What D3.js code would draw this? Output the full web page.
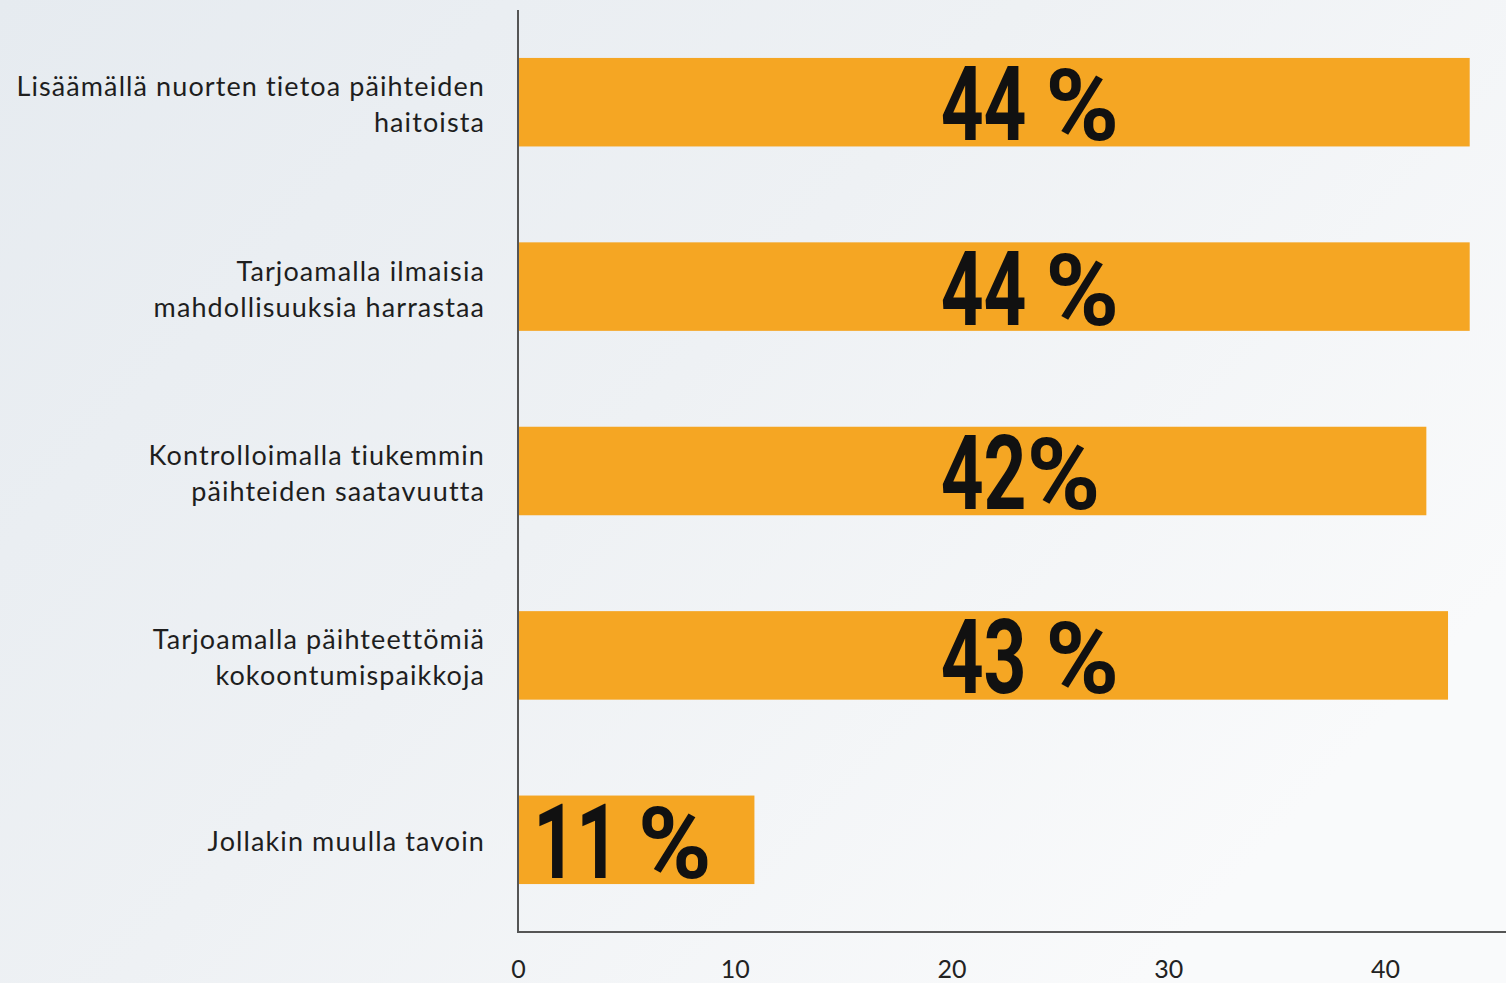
<!DOCTYPE html>
<html><head><meta charset="utf-8">
<script src="https://cdn.jsdelivr.net/npm/d3@7"></script>
<style>
html,body{margin:0;padding:0;overflow:hidden;}
svg{display:block;}
</style></head>
<body>
<script>
const categories = [
  ["Lisäämällä nuorten tietoa päihteiden", "haitoista"],
  ["Tarjoamalla ilmaisia", "mahdollisuuksia harrastaa"],
  ["Kontrolloimalla tiukemmin", "päihteiden saatavuutta"],
  ["Tarjoamalla päihteettömiä", "kokoontumispaikkoja"],
  ["Jollakin muulla tavoin"]
];
const values = [44, 44, 42, 43, 11];
const valueNumbers = ["44", "44", "42", "43", "11"];
const valueSuffixes = [" %", " %", "%", " %", " %"];
const tickValues = [0, 10, 20, 30, 40];

const W = 1506, H = 983;
const svg = d3.select("body").append("svg").attr("width", W).attr("height", H);

const defs = svg.append("defs");
const g1 = defs.append("linearGradient").attr("id","bg").attr("x1","0").attr("y1","0").attr("x2","1").attr("y2","0.6");
g1.append("stop").attr("offset","0").attr("stop-color","#e6ebf0");
g1.append("stop").attr("offset","0.5").attr("stop-color","#eef1f4");
g1.append("stop").attr("offset","1").attr("stop-color","#f9fafb");
svg.append("rect").attr("width", W).attr("height", H).attr("fill","url(#bg)");

const x = d3.scaleLinear().domain([0, 40]).range([518, 1385]);
const y = d3.scaleBand().domain(d3.range(categories.length)).range([10, 932]).paddingInner(0.52).paddingOuter(0.26);

// bars
svg.selectAll("rect.bar").data(values).join("rect")
  .attr("class","bar")
  .attr("x", x(0))
  .attr("y", (d,i) => y(i))
  .attr("width", d => x(d) - x(0) - 2)
  .attr("height", y.bandwidth())
  .attr("fill", "#f5a623");

// value labels (condensed bold): number + percent sign
const numScale = 0.72, pctScale = 1.0;
values.forEach((d, i) => {
  const tx = d > 20 ? x(19.5) : x(0.7);
  const ty = y(i) + y.bandwidth()/2 + 38;
  const num = svg.append("text")
    .attr("transform", `translate(${tx},${ty}) scale(${numScale},1)`)
    .attr("font-family", "Roboto, 'DejaVu Sans', sans-serif")
    .attr("font-weight", 700)
    .attr("font-size", 104)
    .attr("fill", "#111")
    .attr("xml:space", "preserve")
    .text(valueNumbers[i] + (valueSuffixes[i].startsWith(" ") ? " " : ""));
  const w = num.node().getComputedTextLength() * numScale;
  svg.append("text")
    .attr("transform", `translate(${tx + w},${ty}) scale(${pctScale},1)`)
    .attr("font-family", "Roboto, 'DejaVu Sans', sans-serif")
    .attr("font-weight", 700)
    .attr("font-size", 100)
    .attr("fill", "#111")
    .text("%");
});

// category labels
const cat = svg.selectAll("text.cat").data(categories).join("text")
  .attr("class","cat")
  .attr("text-anchor","end")
  .attr("font-family","Lato, 'Open Sans', sans-serif")
  .attr("font-size", 27)
  .attr("letter-spacing", 1.1)
  .attr("fill","#1e1e1e")
  .attr("y", (d,i) => y(i) + y.bandwidth()/2 + 11 - (d.length - 1) * 17);
cat.selectAll("tspan").data(d => d).join("tspan")
  .attr("x", 485)
  .attr("dy", (d,j) => j === 0 ? 0 : 36)
  .text(d => d);

// axes
const xAxis = d3.axisBottom(x).tickValues(tickValues).tickSize(0).tickPadding(0);
const ax = svg.append("g").attr("transform", `translate(0,932)`).call(xAxis);
ax.select(".domain").remove();
ax.selectAll("text")
  .attr("font-family","Lato, 'Open Sans', sans-serif")
  .attr("font-size", 25)
  .attr("fill","#222")
  .attr("dy", null)
  .attr("y", 46);

svg.append("line").attr("x1", x(0)).attr("x2", W).attr("y1", 932).attr("y2", 932)
  .attr("stroke","#555").attr("stroke-width", 2);
svg.append("line").attr("x1", x(0)).attr("x2", x(0)).attr("y1", 10).attr("y2", 933)
  .attr("stroke","#555").attr("stroke-width", 2);
</script>
</body></html>
